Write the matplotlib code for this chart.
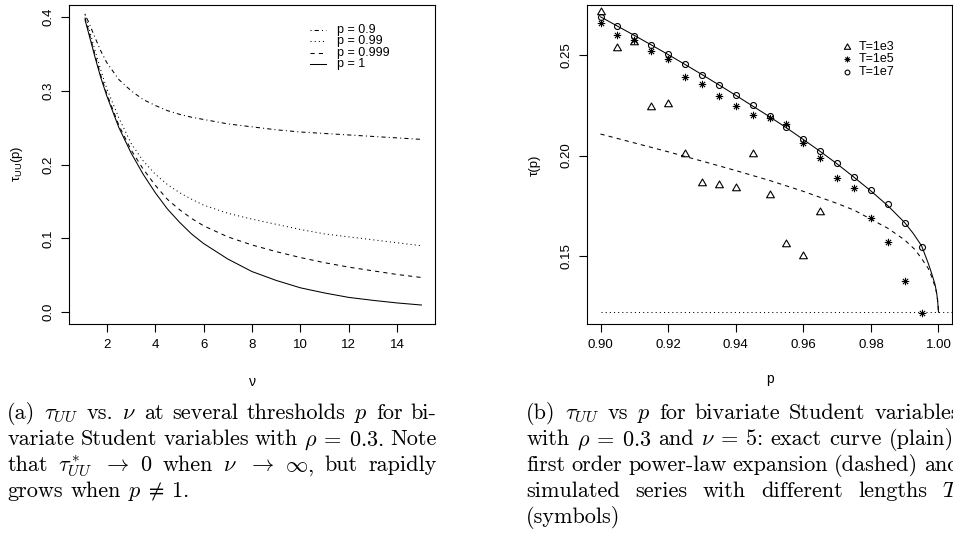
import matplotlib
matplotlib.use("Agg")
import matplotlib.pyplot as plt
from matplotlib.path import Path
from matplotlib.ticker import FormatStrFormatter

plt.rcParams["font.family"] = ["Liberation Sans", "DejaVu Sans"]
plt.rcParams["mathtext.fontset"] = "cm"

W, H = 954, 535

# %% panel (a): tau_UU vs nu for several thresholds p
nu = [1.1, 1.25, 1.5, 1.75, 2, 2.5, 3, 3.5, 4, 4.5, 5, 5.5, 6, 7, 8, 9, 10, 11, 12, 13, 14, 15]
tau_p09 = [0.403, 0.393, 0.373, 0.354, 0.338, 0.315, 0.300, 0.288, 0.280, 0.273, 0.268,
           0.264, 0.261, 0.255, 0.251, 0.247, 0.244, 0.242, 0.240, 0.238, 0.236, 0.234]
tau_p099 = [0.404, 0.386, 0.356, 0.328, 0.303, 0.263, 0.229, 0.205, 0.187, 0.173, 0.162,
            0.153, 0.145, 0.134, 0.126, 0.119, 0.112, 0.106, 0.102, 0.098, 0.094, 0.090]
tau_p0999 = [0.399, 0.381, 0.350, 0.321, 0.296, 0.253, 0.220, 0.194, 0.172, 0.153, 0.139,
             0.127, 0.117, 0.102, 0.091, 0.082, 0.074, 0.067, 0.061, 0.056, 0.051, 0.047]
tau_p1 = [0.396, 0.378, 0.347, 0.318, 0.293, 0.250, 0.216, 0.187, 0.162, 0.140, 0.122,
          0.106, 0.093, 0.072, 0.055, 0.043, 0.033, 0.026, 0.020, 0.016, 0.0125, 0.0097]
labels_a = ["p = 0.9", "p = 0.99", "p = 0.999", "p = 1"]
styles_a = [(0, (1, 3, 4, 3)), (0, (1, 3)), (0, (4, 4)), "-"]

# %% panel (b): tau vs p, nu = 5
p_sim = [0.900, 0.905, 0.910, 0.915, 0.920, 0.925, 0.930, 0.935, 0.940, 0.945,
         0.950, 0.955, 0.960, 0.965, 0.970, 0.975, 0.980, 0.985, 0.990, 0.995]
tau_T1e3 = [0.2710, 0.2531, 0.2561, 0.2242, 0.2257, 0.2006, 0.1862, 0.1852, 0.1839, 0.2006,
            0.1806, 0.1561, 0.1503, 0.1720]
tau_T1e5 = [0.2657, 0.2599, 0.2574, 0.2517, 0.2479, 0.2391, 0.2354, 0.2298, 0.2244, 0.2202,
            0.2186, 0.2158, 0.2062, 0.1989, 0.1888, 0.1839, 0.1692, 0.1572, 0.1379, 0.1219]
tau_T1e7 = [0.2687, 0.2641, 0.2594, 0.2546, 0.2502, 0.2452, 0.2401, 0.2350, 0.2300, 0.2249,
            0.2196, 0.2143, 0.2083, 0.2025, 0.1962, 0.1896, 0.1830, 0.1759, 0.1665, 0.1548]

p_exact = [0.900, 0.905, 0.910, 0.915, 0.920, 0.925, 0.930, 0.935, 0.940, 0.945,
           0.950, 0.955, 0.960, 0.965, 0.970, 0.975, 0.980, 0.985, 0.990, 0.9925,
           0.995, 0.997, 0.998, 0.999, 0.9995, 0.9998, 1.000]
tau_exact = [0.2688, 0.2642, 0.2596, 0.2549, 0.2501, 0.2452, 0.2402, 0.2351, 0.2299, 0.2246,
             0.2193, 0.2138, 0.2080, 0.2021, 0.1959, 0.1893, 0.1825, 0.1752, 0.1668, 0.1615,
             0.1553, 0.1465, 0.1415, 0.1360, 0.1315, 0.1270, 0.1224]
p_expand = [0.90, 0.91, 0.92, 0.93, 0.94, 0.95, 0.96, 0.97, 0.975, 0.98,
            0.985, 0.99, 0.993, 0.995, 0.997, 0.998, 0.999, 0.9995, 0.9999, 1.0]
tau_expand = [0.2107, 0.2063, 0.2019, 0.1973, 0.1926, 0.1877, 0.1823, 0.1763, 0.1730, 0.1685,
              0.1640, 0.1582, 0.1535, 0.1490, 0.1440, 0.1400, 0.1350, 0.1315, 0.1262, 0.1224]
tail_limit = 0.1224
labels_b = ["T=1e3", "T=1e5", "T=1e7"]

# R-like symbols
asterisk = Path([(-1, 0), (1, 0), (0, -1), (0, 1), (-.7, -.7), (.7, .7), (-.7, .7), (.7, -.7)],
                [Path.MOVETO, Path.LINETO] * 4)
triangle = Path([(0, 1.155), (-1, -0.577), (1, -0.577), (0, 1.155)],
                [Path.MOVETO, Path.LINETO, Path.LINETO, Path.CLOSEPOLY])
marks_b = [dict(marker=triangle, ms=6.5), dict(marker=asterisk, ms=5.4), dict(marker="o", ms=4.3)]

fig = plt.figure(figsize=(W / 100, H / 100), dpi=100)


def px_axes(x0, y0, x1, y1):
    return fig.add_axes([x0 / W, 1 - y1 / H, (x1 - x0) / W, (y1 - y0) / H])


def style_axes(ax):
    for s in ax.spines.values():
        s.set_linewidth(0.8)
    ax.tick_params(direction="out", length=5.5, width=0.8, labelsize=9.5, pad=5)
    ax.tick_params(axis="y", labelrotation=90)
    for lab in ax.get_yticklabels():
        lab.set_va("center")


# %% left
ax1 = px_axes(69, 5, 435, 324)
for vals, ls in zip([tau_p09, tau_p099, tau_p0999, tau_p1], styles_a):
    ax1.plot(nu, vals, color="black", lw=0.75, linestyle=ls)
ax1.set_xlim(0.44, 15.56)
ax1.set_ylim(-0.016, 0.416)
ax1.set_xticks([2, 4, 6, 8, 10, 12, 14])
ax1.set_yticks([0.0, 0.1, 0.2, 0.3, 0.4])
ax1.yaxis.set_major_formatter(FormatStrFormatter("%.1f"))
style_axes(ax1)
for i, (lab, ls) in enumerate(zip(labels_a, styles_a)):
    yy = 0.9216 - i * 0.036
    ax1.plot([0.6585, 0.7022], [yy, yy], transform=ax1.transAxes, color="black", lw=0.75, linestyle=ls)
    ax1.text(0.7314, yy, lab, transform=ax1.transAxes, fontsize=9, va="center", ha="left")

fig.text(17 / W, 1 - 164 / H, r"$\mathregular{\tau_{UU}(p)}$", rotation=90, ha="center", va="center", fontsize=9.5)
fig.text(252 / W, 1 - 386 / H, "ν", ha="center", va="baseline", fontsize=10)

# %% right
ax2 = px_axes(587, 5, 952, 324)
ax2.plot(p_exact, tau_exact, color="black", lw=0.75)
ax2.plot(p_expand, tau_expand, color="black", lw=0.75, linestyle=(0, (4, 4)))
ax2.hlines(tail_limit, 0.9, 1.01, color="black", lw=0.75, linestyles=(0, (1, 3)))
for vals, mk in zip([tau_T1e3, tau_T1e5, tau_T1e7], marks_b):
    ax2.plot(p_sim[:len(vals)], vals, linestyle="none", color="black", mfc="none", mew=0.8, **mk)
ax2.set_xlim(0.896, 1.004)
ax2.set_ylim(0.11654, 0.27466)
ax2.set_xticks([0.90, 0.92, 0.94, 0.96, 0.98, 1.00])
ax2.set_yticks([0.15, 0.20, 0.25])
ax2.xaxis.set_major_formatter(FormatStrFormatter("%.2f"))
ax2.yaxis.set_major_formatter(FormatStrFormatter("%.2f"))
style_axes(ax2)
for i, (lab, mk) in enumerate(zip(labels_b, marks_b)):
    yy = 0.8693 - i * 0.0393
    ax2.plot([0.711], [yy], transform=ax2.transAxes, linestyle="none", color="black", mfc="none",
             mew=0.8, marker=mk["marker"], ms=mk["ms"] * 0.8)
    ax2.text(0.7433, yy, lab, transform=ax2.transAxes, fontsize=9, va="center", ha="left")

fig.text(535 / W, 1 - 165.7 / H, "τ(p)", rotation=90, ha="center", va="center", fontsize=9.5)
fig.text(770 / W, 1 - 382.7 / H, "p", ha="center", va="baseline", fontsize=10)

# %% captions, justified like LaTeX (right column runs off the page as in the source)
caption_a = [
    r"(a) $\tau_{UU}$ vs. $\nu$ at several thresholds $p$ for bi-",
    r"variate Student variables with $\rho\:=\:0.3$. Note",
    r"that $\tau^*_{UU}$ $\rightarrow$ 0 when $\nu$ $\rightarrow$ $\infty$, but rapidly",
    r"grows when $p\:\neq\:1$.",
]
caption_b = [
    r"(b) $\tau_{UU}$ vs $p$ for bivariate Student variables",
    r"with $\rho\:=\:0.3$ and $\nu\:=\:5$: exact curve (plain),",
    r"first order power-law expansion (dashed) and",
    r"simulated series with different lengths $T$",
    r"(symbols)",
]


def split_tokens(line):
    tokens, cur, in_math = [], "", False
    for ch in line:
        if ch == "$":
            in_math = not in_math
        if ch == " " and not in_math:
            if cur:
                tokens.append(cur)
            cur = ""
        else:
            cur += ch
    if cur:
        tokens.append(cur)
    return tokens


renderer = fig.canvas.get_renderer()
cap_fs = 16


def place_caption(lines, x0, x1, y0, step=26.0):
    for i, line in enumerate(lines):
        y = 1 - (y0 + i * step) / H
        words = split_tokens(line)
        texts = [fig.text(0, y, w, fontsize=cap_fs, family="cmr10", va="baseline", ha="left") for w in words]
        widths = [t.get_window_extent(renderer).width for t in texts]
        if i == len(lines) - 1 or len(words) == 1:
            gap = cap_fs * 100 / 72 * 0.333
        else:
            gap = (x1 - x0 - sum(widths)) / (len(words) - 1)
        x = x0
        for t, w in zip(texts, widths):
            t.set_x(x / W)
            x += w + gap


place_caption(caption_a, 7.3, 436.7, 419.3)
place_caption(caption_b, 526.3, 960, 419.3)

fig.savefig("out.png", dpi=100)
